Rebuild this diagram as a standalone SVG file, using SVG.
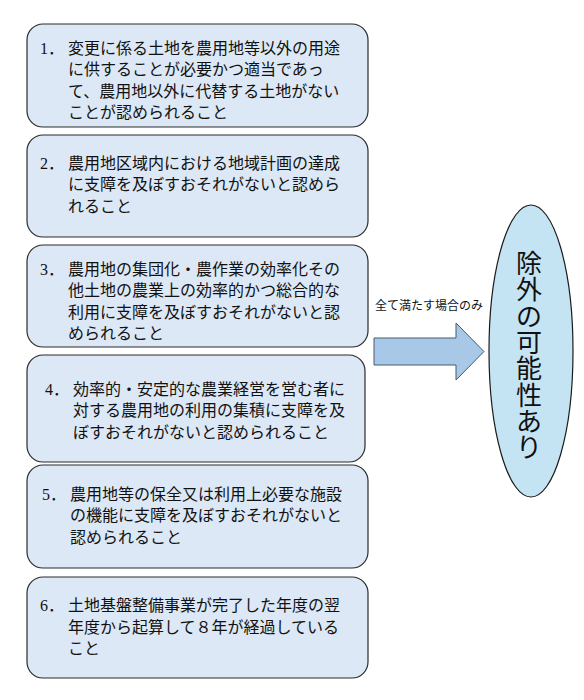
<svg xmlns="http://www.w3.org/2000/svg" width="584" height="700" viewBox="0 0 584 700">
<style>
.box{fill:#dce8f5;stroke:#2b2b2b;stroke-width:1.2}
.t{font-family:"Liberation Serif","Noto Sans CJK JP",serif;font-size:16px;fill:#111}
.lbl{font-family:"Liberation Sans","Noto Sans CJK JP",sans-serif;font-size:12px;fill:#111}
.big{font-family:"Liberation Serif","Noto Sans CJK JP",serif;font-size:26px;fill:#111}
</style>
<rect width="584" height="700" fill="#fff"/>
<g id="node1"><rect class="box" x="27" y="24" width="341" height="103" rx="16"/>
<text class="t" x="40" y="53.5">1．</text>
<text class="t"><tspan x="68" y="53.5">変更に係る土地を農用地等以外の用途</tspan><tspan x="68" y="75">に供することが必要かつ適当であっ</tspan><tspan x="68" y="96.5">て、農用地以外に代替する土地がない</tspan><tspan x="68" y="118">ことが認められること</tspan></text></g>
<g id="node2"><rect class="box" x="27" y="135" width="341" height="102" rx="16"/>
<text class="t" x="40" y="168.5">2．</text>
<text class="t"><tspan x="68" y="168.5">農用地区域内における地域計画の達成</tspan><tspan x="68" y="190">に支障を及ぼすおそれがないと認めら</tspan><tspan x="68" y="211.5">れること</tspan></text></g>
<g id="node3"><rect class="box" x="27" y="245" width="341" height="102" rx="16"/>
<text class="t" x="40" y="274.5">3．</text>
<text class="t"><tspan x="68" y="274.5">農用地の集団化・農作業の効率化その</tspan><tspan x="68" y="296">他土地の農業上の効率的かつ総合的な</tspan><tspan x="68" y="317.5">利用に支障を及ぼすおそれがないと認</tspan><tspan x="68" y="339">められること</tspan></text></g>
<g id="node4"><rect class="box" x="27" y="355" width="338" height="107" rx="16"/>
<text class="t" x="45" y="394.5">4．</text>
<text class="t"><tspan x="73" y="394.5">効率的・安定的な農業経営を営む者に</tspan><tspan x="73" y="416">対する農用地の利用の集積に支障を及</tspan><tspan x="73" y="437.5">ぼすおそれがないと認められること</tspan></text></g>
<g id="node5"><rect class="box" x="27" y="465" width="341" height="103" rx="16"/>
<text class="t" x="42" y="499.5">5．</text>
<text class="t"><tspan x="70" y="499.5">農用地等の保全又は利用上必要な施設</tspan><tspan x="70" y="521">の機能に支障を及ぼすおそれがないと</tspan><tspan x="70" y="542.5">認められること</tspan></text></g>
<g id="node6"><rect class="box" x="27" y="577" width="341" height="101" rx="16"/>
<text class="t" x="40" y="611">6．</text>
<text class="t"><tspan x="68" y="611">土地基盤整備事業が完了した年度の翌</tspan><tspan x="68" y="632.5">年度から起算して８年が経過している</tspan><tspan x="68" y="654">こと</tspan></text></g>
<g id="connectors">
<polygon points="374,338 456,338 456,323 484,351.5 456,380 456,365 374,365" fill="#a8c8e8" stroke="#4a5a6a" stroke-width="1"/>
<text class="lbl" x="375" y="310">全て満たす場合のみ</text>
</g>
<g id="result"><ellipse cx="531" cy="351" rx="42" ry="146" fill="#c5e4f3" stroke="#1a1a1a" stroke-width="1.2"/>
<text class="big" text-anchor="middle"><tspan x="529" y="273">除</tspan><tspan x="529" y="299.3">外</tspan><tspan x="529" y="325.6">の</tspan><tspan x="529" y="351.9">可</tspan><tspan x="529" y="378.2">能</tspan><tspan x="529" y="404.5">性</tspan><tspan x="529" y="430.8">あ</tspan><tspan x="529" y="457">り</tspan></text></g>
</svg>
